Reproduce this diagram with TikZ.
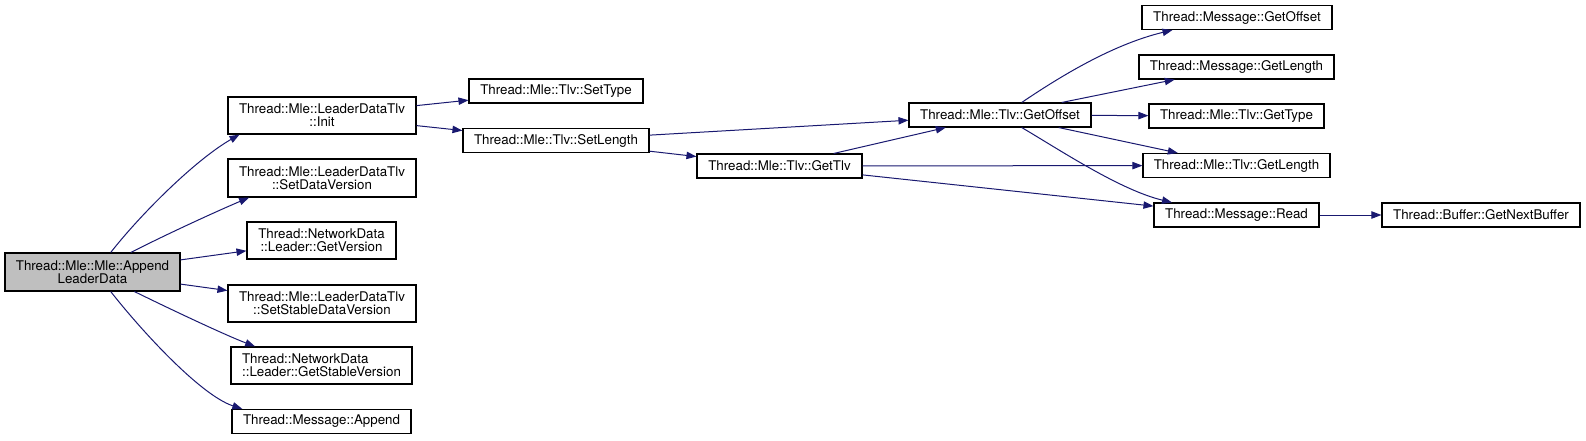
\documentclass[tikz,border=0pt]{standalone}
\usepackage{fontspec}
\setmainfont{TeX Gyre Heros}
\usepackage{tikz}
\usetikzlibrary{arrows.meta}
\definecolor{edgeBlue}{RGB}{25, 25, 112}
\definecolor{boxGray}{RGB}{191, 191, 191}

\begin{document}
\begin{tikzpicture}[x=0.75pt, y=-0.75pt,
    fn/.style={draw=black, line width=0.8pt, inner sep=0pt, align=center,
        minimum height=18pt, font=\fontsize{10pt}{10pt}\selectfont},
    call/.style={draw=edgeBlue, line width=0.75pt, -{Triangle[length=7.5pt, width=5.5pt, fill=edgeBlue]}}]
    \useasboundingbox (0,0) rectangle (1586,440);

    % caller
    \node[fn, fill=boxGray, minimum width=131.25pt, minimum height=28.5pt] (main) at (92.5,272) {Thread::Mle::Mle::Append\\LeaderData};

    % first level
    \node[fn, minimum width=141pt, minimum height=27.75pt] (init) at (322,115.5) {Thread::Mle::LeaderDataTlv\\::Init};
    \node[fn, minimum width=141pt, minimum height=28.5pt] (setDataVer) at (322,178) {Thread::Mle::LeaderDataTlv\\::SetDataVersion};
    \node[fn, minimum width=111.75pt, minimum height=27.75pt] (getVer) at (321.5,240.5) {Thread::NetworkData\\::Leader::GetVersion};
    \node[fn, minimum width=141pt, minimum height=27.75pt] (setStableVer) at (322,303.5) {Thread::Mle::LeaderDataTlv\\::SetStableDataVersion};
    \node[fn, align=left, minimum width=135.75pt, minimum height=27.75pt] (getStableVer) at (321.5,365.5) {Thread::NetworkData\\::Leader::GetStableVersion};
    \node[fn, minimum width=134.25pt] (msgAppend) at (321.5,421.5) {Thread::Message::Append};

    % tlv helpers
    \node[fn, minimum width=130.5pt] (setType) at (556,91) {Thread::Mle::Tlv::SetType};
    \node[fn, minimum width=139.5pt] (setLength) at (556,140.5) {Thread::Mle::Tlv::SetLength};
    \node[fn, minimum width=123.75pt] (getTlv) at (779.5,166) {Thread::Mle::Tlv::GetTlv};
    \node[fn, minimum width=136.5pt] (tlvGetOffset) at (1000,115) {Thread::Mle::Tlv::GetOffset};

    % leaves
    \node[fn, minimum width=142.5pt] (msgGetOffset) at (1237,17.5) {Thread::Message::GetOffset};
    \node[fn, minimum width=146.25pt] (msgGetLength) at (1236.5,67) {Thread::Message::GetLength};
    \node[fn, minimum width=131.25pt] (tlvGetType) at (1236.5,116) {Thread::Mle::Tlv::GetType};
    \node[fn, minimum width=140.25pt] (tlvGetLength) at (1236.5,165.5) {Thread::Mle::Tlv::GetLength};
    \node[fn, minimum width=123.75pt] (msgRead) at (1236.5,215) {Thread::Message::Read};
    \node[fn, minimum width=148.5pt] (getNextBuf) at (1481,215) {Thread::Buffer::GetNextBuffer};

    % calls from the caller
    \draw[call] (main.47) .. controls (140,215) and (195,160) .. (init.193);
    \draw[call] (main.27) .. controls (165,235) and (215,212) .. (setDataVer.195);
    \draw[call] (main) -- (getVer);
    \draw[call] (main) -- (setStableVer);
    \draw[call] (main.-25) .. controls (170,309) and (225,335) .. (getStableVer.164);
    \draw[call] (main.-47) .. controls (140,329) and (200,395) .. (msgAppend.171);

    % nested calls
    \draw[call] (init) -- (setType);
    \draw[call] (init) -- (setLength);
    \draw[call] (setLength) -- (tlvGetOffset);
    \draw[call] (setLength) -- (getTlv);
    \draw[call] (getTlv) -- (tlvGetOffset);
    \draw[call] (getTlv) -- (tlvGetLength);
    \draw[call] (getTlv) -- (msgRead);
    \draw[call] (tlvGetOffset.30) .. controls (1055,80) and (1110,45) .. (msgGetOffset.191);
    \draw[call] (tlvGetOffset) -- (msgGetLength);
    \draw[call] (tlvGetOffset) -- (tlvGetType);
    \draw[call] (tlvGetOffset) -- (tlvGetLength);
    \draw[call] (tlvGetOffset.-30) .. controls (1060,150) and (1120,190) .. (msgRead.169);
    \draw[call] (msgRead) -- (getNextBuf);
\end{tikzpicture}
\end{document}
